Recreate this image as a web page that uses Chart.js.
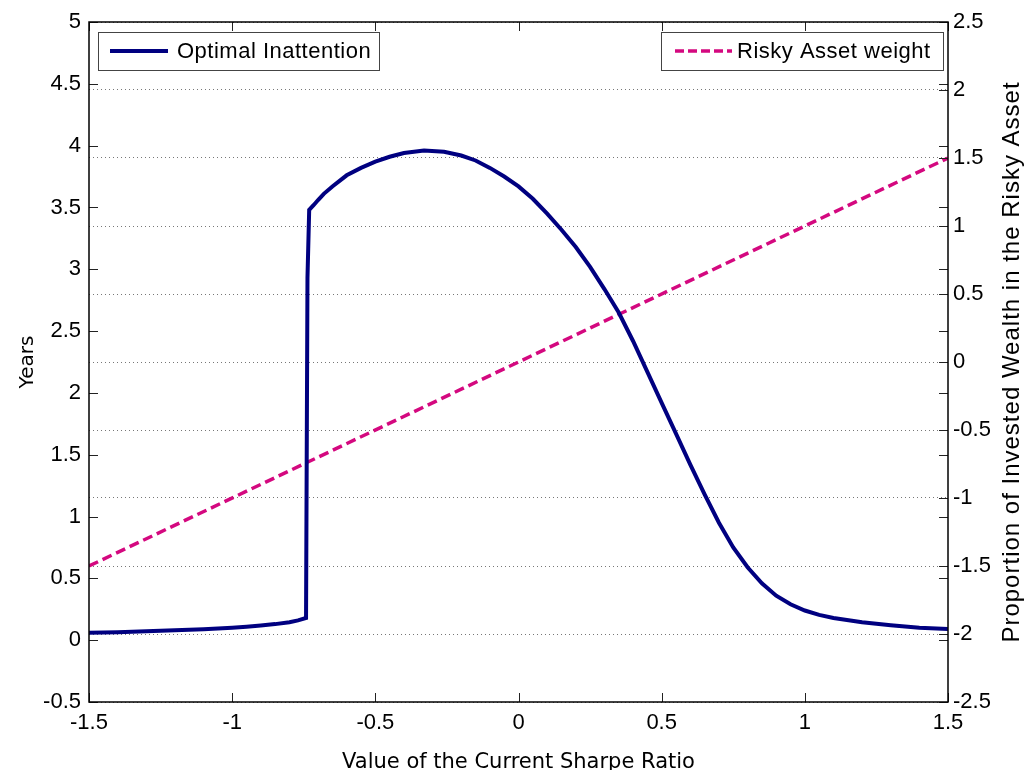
<!DOCTYPE html>
<html>
<head>
<meta charset="utf-8">
<script src="https://cdn.jsdelivr.net/npm/chart.js@4/dist/chart.umd.min.js"></script>
<style>
  html, body { margin: 0; padding: 0; background: #fff; }
  #wrap { width: 1027px; height: 770px; }
</style>
</head>
<body>
<div id="wrap"><canvas id="sharpeChart" width="1027" height="770"></canvas></div>
<script>
// Optimal inattention (years, left axis)
const inattX = [-1.5, -1.4, -1.3, -1.2, -1.1, -1.0, -0.95, -0.9, -0.85, -0.8, -0.77, -0.742, -0.737, -0.731,
                -0.715, -0.7, -0.68, -0.65, -0.6, -0.55, -0.5, -0.45, -0.4, -0.33, -0.26, -0.2, -0.15, -0.1, -0.05,
                0, 0.05, 0.1, 0.15, 0.2, 0.25, 0.3, 0.35, 0.4, 0.45, 0.5, 0.55, 0.6, 0.65, 0.7, 0.75, 0.8, 0.85,
                0.9, 0.95, 1.0, 1.05, 1.1, 1.2, 1.3, 1.4, 1.5];
const inattYears = [0.06, 0.065, 0.072, 0.08, 0.088, 0.1, 0.108, 0.118, 0.13, 0.145, 0.16, 0.18, 2.93, 3.48,
                    3.52, 3.56, 3.61, 3.67, 3.76, 3.82, 3.87, 3.91, 3.94, 3.96, 3.95, 3.92, 3.88, 3.82, 3.75,
                    3.67, 3.57, 3.45, 3.32, 3.18, 3.02, 2.84, 2.65, 2.42, 2.17, 1.92, 1.67, 1.42, 1.18, 0.95, 0.75, 0.59, 0.46,
                    0.36, 0.29, 0.24, 0.205, 0.18, 0.145, 0.12, 0.1, 0.09];

// Risky asset weight (right axis)
const riskyX = [-1.5, 0, 1.5];
const riskyWeight = [-1.5, 0, 1.5];

const xTicks = [-1.5, -1, -0.5, 0, 0.5, 1, 1.5];
const leftTicks = [-0.5, 0, 0.5, 1, 1.5, 2, 2.5, 3, 3.5, 4, 4.5, 5];
const rightTicks = [-2.5, -2, -1.5, -1, -0.5, 0, 0.5, 1, 1.5, 2, 2.5];
const rightTitle = 'Proportion of Invested Wealth in the Risky Asset';

const blueColor = '#000080';
const pinkColor = '#d4087f';
const tickFont = { family: '"Liberation Sans", Arial, sans-serif', size: 22 };
const plainNum = v => String(v);

// 안쪽으로 향하는 눈금, 테두리, 범례 상자, 오른쪽 축 제목
const matlabFrame = {
    id: 'matlabFrame',
    afterDraw(chart) {
        const ctx = chart.ctx;
        const a = chart.chartArea;
        const sx = chart.scales.x, sy = chart.scales.y, sy2 = chart.scales.y2;
        ctx.save();
        ctx.strokeStyle = '#222';
        ctx.lineWidth = 1;
        ctx.beginPath();
        xTicks.forEach(v => {
            const px = Math.round(sx.getPixelForValue(v)) + 0.5;
            ctx.moveTo(px, a.top); ctx.lineTo(px, a.top + 9);
            ctx.moveTo(px, a.bottom); ctx.lineTo(px, a.bottom - 9);
        });
        leftTicks.forEach(v => {
            const py = Math.round(sy.getPixelForValue(v)) + 0.5;
            ctx.moveTo(a.left, py); ctx.lineTo(a.left + 9, py);
            ctx.moveTo(a.right, py); ctx.lineTo(a.right - 9, py);
        });
        rightTicks.forEach(v => {
            const py = Math.round(sy2.getPixelForValue(v)) + 0.5;
            ctx.moveTo(a.right, py); ctx.lineTo(a.right - 9, py);
        });
        ctx.stroke();

        ctx.strokeStyle = '#000';
        ctx.lineWidth = 1.5;
        ctx.strokeRect(a.left, a.top, a.right - a.left, a.bottom - a.top);

        // legend boxes
        const ds = chart.data.datasets;
        const boxes = [
            { x: 98, y: 32, w: 281, h: 38, ds: ds[0], dash: [], lx0: 110, lx1: 168, tx: 177 },
            { x: 661, y: 32, w: 282, h: 38, ds: ds[1], dash: [9, 4], lx0: 675, lx1: 732, tx: 737 }
        ];
        boxes.forEach(b => {
            ctx.fillStyle = '#fff';
            ctx.fillRect(b.x, b.y, b.w, b.h);
            ctx.strokeStyle = '#444';
            ctx.lineWidth = 1;
            ctx.setLineDash([]);
            ctx.strokeRect(b.x + 0.5, b.y + 0.5, b.w, b.h);
            const my = b.y + b.h / 2;
            ctx.strokeStyle = b.ds.borderColor;
            ctx.lineWidth = b.ds.borderWidth;
            ctx.setLineDash(b.dash);
            ctx.beginPath();
            ctx.moveTo(b.lx0, my); ctx.lineTo(b.lx1, my);
            ctx.stroke();
            ctx.setLineDash([]);
            ctx.fillStyle = '#000';
            ctx.font = '22px "Liberation Sans", Arial, sans-serif';
            ctx.letterSpacing = '0.5px';
            ctx.textBaseline = 'middle';
            ctx.textAlign = 'left';
            ctx.fillText(b.ds.label, b.tx, my + 1);
        });

        // right axis title, reading bottom to top
        ctx.translate(1012, (a.top + a.bottom) / 2);
        ctx.rotate(-Math.PI / 2);
        ctx.fillStyle = '#000';
        ctx.font = '24px "Liberation Sans", Arial, sans-serif';
        ctx.letterSpacing = '1px';
        ctx.textAlign = 'center';
        ctx.textBaseline = 'middle';
        ctx.fillText(rightTitle, 0, 0);
        ctx.restore();
    }
};

const ctx = document.getElementById('sharpeChart').getContext('2d');
new Chart(ctx, {
    type: 'line',
    data: {
        datasets: [
            {
                label: 'Optimal Inattention',
                data: inattX.map((x, i) => ({ x: x, y: inattYears[i] })),
                yAxisID: 'y',
                borderColor: blueColor,
                borderWidth: 4,
                pointRadius: 0,
                tension: 0,
                fill: false
            },
            {
                label: 'Risky Asset weight',
                data: riskyX.map((x, i) => ({ x: x, y: riskyWeight[i] })),
                yAxisID: 'y2',
                borderColor: pinkColor,
                borderWidth: 3.5,
                borderDash: [10, 5],
                pointRadius: 0,
                fill: false
            }
        ]
    },
    options: {
        responsive: false,
        animation: false,
        maintainAspectRatio: false,
        layout: { padding: { top: 22, left: 0, right: 0, bottom: 0 } },
        plugins: {
            legend: { display: false },
            tooltip: { enabled: false }
        },
        scales: {
            x: {
                type: 'linear',
                min: -1.5, max: 1.5,
                afterFit: s => { s.height = 68; },
                ticks: { stepSize: 0.5, autoSkip: false, color: '#000', font: tickFont, padding: 8, maxRotation: 0, callback: plainNum },
                grid: { display: false, drawTicks: false },
                border: { display: false },
                title: {
                    display: true,
                    text: 'Value of the Current Sharpe Ratio',
                    color: '#000',
                    font: { family: '"DejaVu Sans"', size: 21, lineHeight: 1 },
                    padding: { top: 0, bottom: -3 }
                }
            },
            y: {
                position: 'left',
                min: -0.5, max: 5,
                afterFit: s => { s.width = 89; },
                ticks: { stepSize: 0.5, autoSkip: false, color: '#000', font: tickFont, padding: 8, callback: plainNum },
                grid: { display: false, drawTicks: false },
                border: { display: false },
                title: {
                    display: true,
                    text: 'Years',
                    color: '#000',
                    font: { family: '"DejaVu Sans"', size: 20, lineHeight: 1 },
                    padding: { top: 18, bottom: 18 }
                }
            },
            y2: {
                position: 'right',
                min: -2.5, max: 2.5,
                afterFit: s => { s.width = 79; },
                ticks: { stepSize: 0.5, autoSkip: false, color: '#000', font: tickFont, padding: 5, callback: plainNum },
                grid: { display: true, drawOnChartArea: true, drawTicks: false, color: '#777', lineWidth: 1 },
                border: { display: false, dash: [1, 3] },
                title: { display: false }
            }
        }
    },
    plugins: [matlabFrame]
});
</script>
</body>
</html>
